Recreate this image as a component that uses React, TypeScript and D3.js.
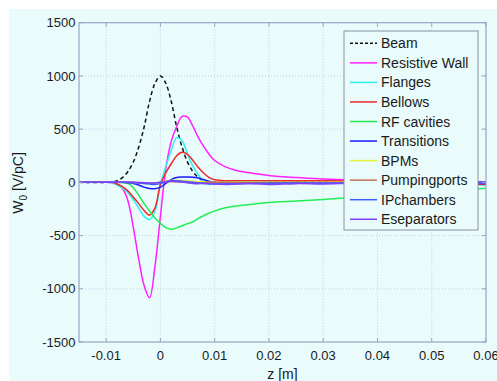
import React from 'react'
import * as d3 from 'd3'

// z positions [m] shared by all series
const zGrid = [-0.015, -0.01, -0.009, -0.008, -0.007, -0.006, -0.005, -0.004, -0.003, -0.002, -0.001, 0,
  0.001, 0.002, 0.003, 0.004, 0.005, 0.006, 0.007, 0.008, 0.009, 0.01,
  0.012, 0.014, 0.017, 0.02, 0.025, 0.03, 0.035, 0.04, 0.05, 0.06]

const beam = [0, 0, 3, 15, 45, 100, 190, 330, 520, 760, 930, 1000,
  930, 760, 520, 330, 190, 100, 45, 15, 3, 0,
  0, 0, 0, 0, 0, 0, 0, 0, 0, 0]
const resistiveWall = [0, 0, -5, -15, -55, -170, -420, -720, -970, -1085, -790, -320,
  130, 385, 525, 620, 612, 525, 420, 335, 262, 205,
  145, 112, 85, 64, 45, 32, 22, 15, 8, 2]
const flanges = [0, 0, -3, -25, -55, -95, -165, -240, -320, -350, -270, -20,
  150, 300, 420, 390, 265, 150, 70, 5, -20, -8,
  0, 3, 2, 0, -3, -5, -8, -10, -15, -25]
const bellows = [0, 0, 0, -15, -40, -80, -140, -200, -265, -307, -240, -20,
  90, 175, 250, 282, 262, 205, 140, 85, 45, 25,
  15, 15, 15, 15, 15, 15, 12, 5, -5, -20]
const rfCavities = [0, 0, 0, 0, -3, -10, -50, -120, -200, -270, -335, -385,
  -425, -440, -428, -408, -388, -370, -338, -312, -288, -268,
  -238, -222, -205, -190, -175, -160, -145, -130, -95, -55]
const transitions = [0, 0, 0, 0, 0, -3, -10, -25, -45, -58, -60, -45,
  -10, 25, 45, 50, 50, 48, 40, 25, 10, 0,
  -5, -5, -5, -5, -5, -5, -5, -5, -8, -10]
const bpms = [0, 0, 0, 0, 0, 0, -2, -5, -10, -15, -15, -5,
  10, 18, 20, 18, 15, 10, 7, 5, 2, 0,
  0, 0, 0, 0, 0, 0, 0, 0, 0, 0]
const pumpingports = [0, 0, 0, 0, 0, 0, 0, -3, -6, -8, -6, 0,
  6, 8, 6, 2, -2, -5, -5, -3, 0, 2,
  0, -2, -3, -2, 0, -2, -3, -2, -3, -5]
const ipChambers = [0, 0, 0, 0, 0, 0, -3, -6, -10, -15, -20, -12,
  8, 15, 15, 10, 5, 0, -5, -10, -12, -15,
  -15, -12, -10, -8, -6, -5, -5, -5, -5, -7]
const eseparators = [0, 0, 0, 0, 0, 0, 0, -2, -4, -6, -5, 0,
  5, 10, 8, 3, -3, -10, -12, -10, -12, -16,
  -20, -15, -12, -20, -12, -15, -8, -5, 0, 5]

const seriesNames = ['Beam', 'Resistive Wall', 'Flanges', 'Bellows', 'RF cavities', 'Transitions',
  'BPMs', 'Pumpingports', 'IPchambers', 'Eseparators']
const seriesValues = [beam, resistiveWall, flanges, bellows, rfCavities, transitions,
  bpms, pumpingports, ipChambers, eseparators]
const seriesColors = ['#111111', '#ff1fff', '#2ef0f0', '#ee2a2a', '#22ee55', '#1a1aff',
  '#e8f23a', '#c0705a', '#3a5cff', '#8040ff']

const xTicks = [-0.01, 0, 0.01, 0.02, 0.03, 0.04, 0.05, 0.06]
const xTickLabels = ['-0.01', '0', '0.01', '0.02', '0.03', '0.04', '0.05', '0.06']
const yTicks = [-1500, -1000, -500, 0, 500, 1000, 1500]
const yTickLabels = ['-1500', '-1000', '-500', '0', '500', '1000', '1500']

const W = 497
const H = 381
const plot = { left: 79, right: 486, top: 22.7, bottom: 342 }
const bg = '#e9fbfb'
const axisColor = '#9aa3c6'
const gridColor = '#c3cfe6'
const font = '"Liberation Sans", Arial, Helvetica, sans-serif'

export default function App() {
  const x = d3.scaleLinear().domain([-0.015, 0.06]).range([plot.left, plot.right])
  const y = d3.scaleLinear().domain([-1500, 1500]).range([plot.bottom, plot.top])

  const line = d3.line<number>()
    .x((_, i) => x(zGrid[i]))
    .y(d => y(d))
    .curve(d3.curveCatmullRom.alpha(0.5))

  const legend = { left: 344, top: 31, right: 478, bottom: 230 }
  const rowH = 19.55

  return (
    <svg width={W} height={H} style={{ position: 'absolute', left: 0, top: 0, display: 'block' }}
      fontFamily={font}>
      <rect x={9} y={9} width={W - 9} height={H - 9} fill={bg} />
      <defs>
        <clipPath id="plotClip">
          <rect x={plot.left} y={plot.top} width={plot.right - plot.left} height={plot.bottom - plot.top} />
        </clipPath>
      </defs>

      {/* grid */}
      {xTicks.filter(t => t < 0.06).map(t => (
        <line key={'gx' + t} x1={x(t)} x2={x(t)} y1={plot.top} y2={plot.bottom}
          stroke={gridColor} strokeDasharray="1,2" />
      ))}
      {yTicks.filter(t => t > -1500 && t < 1500).map(t => (
        <line key={'gy' + t} x1={plot.left} x2={plot.right} y1={y(t)} y2={y(t)}
          stroke={gridColor} strokeDasharray="1,2" />
      ))}

      {/* series */}
      <g clipPath="url(#plotClip)">
        {seriesValues.map((vals, i) => (
          <path key={seriesNames[i]} d={line(vals) || ''} fill="none" stroke={seriesColors[i]}
            strokeWidth={1.5} strokeDasharray={i === 0 ? '4,3' : undefined} />
        ))}
      </g>

      {/* axes box and ticks */}
      <rect x={plot.left} y={plot.top} width={plot.right - plot.left} height={plot.bottom - plot.top}
        fill="none" stroke={axisColor} strokeWidth={1.2} />
      {xTicks.map(t => (
        <g key={'tx' + t}>
          <line x1={x(t)} x2={x(t)} y1={plot.bottom} y2={plot.bottom - 4} stroke={axisColor} />
          <line x1={x(t)} x2={x(t)} y1={plot.top} y2={plot.top + 4} stroke={axisColor} />
        </g>
      ))}
      {yTicks.map(t => (
        <g key={'ty' + t}>
          <line x1={plot.left} x2={plot.left + 4} y1={y(t)} y2={y(t)} stroke={axisColor} />
          <line x1={plot.right} x2={plot.right - 4} y1={y(t)} y2={y(t)} stroke={axisColor} />
        </g>
      ))}

      {/* tick labels */}
      {xTicks.map((t, i) => (
        <text key={'lx' + t} x={x(t)} y={360} textAnchor="middle" fontSize={13} fill="#1a1a1a">
          {xTickLabels[i]}
        </text>
      ))}
      {yTicks.map((t, i) => (
        <text key={'ly' + t} x={75.5} y={y(t) + 4.7} textAnchor="end" fontSize={13} fill="#1a1a1a">
          {yTickLabels[i]}
        </text>
      ))}

      {/* axis titles */}
      <text x={(plot.left + plot.right) / 2} y={379} textAnchor="middle" fontSize={14} fill="#1a1a1a">
        z [m]
      </text>
      <text transform={`translate(23, ${183}) rotate(-90)`} textAnchor="middle" fontSize={14} fill="#1a1a1a">
        W<tspan fontSize={10} dy={4}>0</tspan><tspan dy={-4}> [V/pC]</tspan>
      </text>

      {/* legend */}
      <rect x={legend.left} y={legend.top} width={legend.right - legend.left} height={legend.bottom - legend.top}
        fill={bg} stroke="#8a90a4" strokeWidth={1} />
      {seriesNames.map((name, i) => {
        const cy = 43.3 + i * rowH
        return (
          <g key={'lg' + name}>
            <line x1={350} x2={377} y1={cy} y2={cy} stroke={seriesColors[i]} strokeWidth={1.5}
              strokeDasharray={i === 0 ? '3,2' : undefined} />
            <text x={381} y={cy + 5} fontSize={14} fill="#1a1a1a">{name}</text>
          </g>
        )
      })}
    </svg>
  )
}
